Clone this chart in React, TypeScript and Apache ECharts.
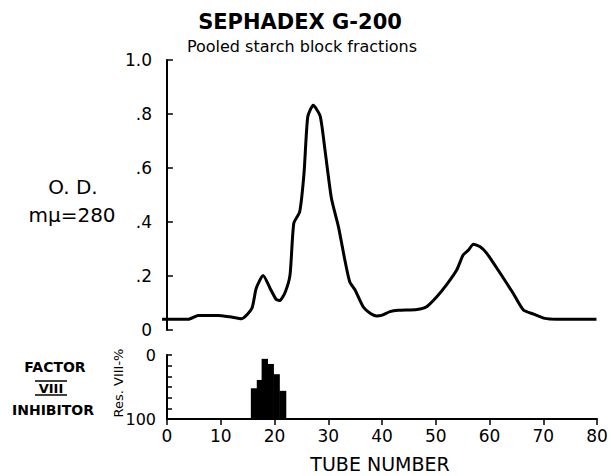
import React, { useEffect, useRef } from "react";
import * as echarts from "echarts";

// Optical density (O.D. at 280 mμ) vs tube number
const tubes = [
  -0.9, 4.0, 5.8, 9.5, 11.7, 13.9, 15.8, 16.6, 17.9, 19.2, 20.3, 21.0, 22.0, 22.9,
  23.6, 24.7, 25.5, 26.2, 27.2, 28.5, 29.4, 30.6, 31.9, 33.1, 34.0, 35.0, 36.5,
  37.8, 39.0, 39.9, 41.5, 43.0, 46.5, 48.3, 50.2, 52.0, 53.9, 55.1, 56.1, 57.0,
  58.2, 59.5, 62.0, 64.4, 66.3, 68.2, 70.3, 72.5, 79.9,
];
const od = [
  0.04, 0.04, 0.054, 0.054, 0.049, 0.042, 0.08, 0.154, 0.202, 0.154, 0.114, 0.109,
  0.14, 0.204, 0.395, 0.438, 0.58, 0.79, 0.832, 0.793, 0.667, 0.488, 0.383, 0.259,
  0.179, 0.148, 0.086, 0.062, 0.052, 0.054, 0.068, 0.073, 0.076, 0.086, 0.123,
  0.167, 0.222, 0.278, 0.296, 0.318, 0.309, 0.284, 0.21, 0.136, 0.074, 0.059,
  0.043, 0.04, 0.04,
];

// Factor VIII inhibitor: residual VIII % per tube (bins)
const binEdges = [15.6, 16.7, 17.6, 18.7, 19.8, 20.9, 22.1];
const residual = [52, 39, 6, 14, 30, 56];

const odTicks = [0, 0.2, 0.4, 0.6, 0.8, 1.0];
const odTickLabels = ["0", ".2", ".4", ".6", ".8", "1.0"];
const tubeTicks = [0, 10, 20, 30, 40, 50, 60, 70, 80];

const FONT = "DejaVu Sans";

export default function App() {
  const ref = useRef<HTMLDivElement>(null);
  useEffect(() => {
    if (!ref.current) return;
    const chart = echarts.init(ref.current, undefined, { renderer: "svg" });
    const lineData = tubes.map((t, i) => [t, od[i]]);
    const barData = residual.map((v, i) => [binEdges[i], binEdges[i + 1], v]);
    const txt = (
      text: string,
      x: number,
      y: number,
      size: number,
      weight: string = "normal",
      extra: any = {}
    ) => ({
      type: "text",
      x,
      y,
      ...extra,
      style: {
        text,
        x: 0,
        y: 0,
        fill: "#000",
        font: `${weight} ${size}px "${FONT}"`,
        textAlign: "center",
        textVerticalAlign: "middle",
        align: "center",
        verticalAlign: "middle",
      },
    });
    chart.setOption({
      animation: false,
      backgroundColor: "#fff",
      grid: [
        { left: 161, right: 14, top: 60, height: 270 },
        { left: 167, right: 14, top: 355, height: 64 },
      ],
      xAxis: [
        { gridIndex: 0, type: "value", min: -1.1, max: 80, show: false },
        {
          gridIndex: 1,
          type: "value",
          min: 0,
          max: 80,
          interval: 10,
          position: "bottom",
          axisLine: { onZero: false, lineStyle: { color: "#000", width: 2 } },
          axisTick: { inside: false, length: 6, lineStyle: { color: "#000", width: 1.5 } },
          axisLabel: {
            color: "#000",
            fontSize: 17,
            fontFamily: FONT,
            margin: 8,
            formatter: (v: number) => (tubeTicks.includes(v) ? String(v) : ""),
          },
          splitLine: { show: false },
        },
      ],
      yAxis: [
        {
          gridIndex: 0,
          type: "value",
          min: 0,
          max: 1,
          interval: 0.2,
          axisLine: { show: true, lineStyle: { color: "#000", width: 2 } },
          axisTick: { show: true, inside: true, length: 6, lineStyle: { color: "#000", width: 1.5 } },
          axisLabel: {
            color: "#000",
            fontSize: 17,
            fontFamily: FONT,
            margin: 9,
            formatter: (v: number) => {
              const i = odTicks.findIndex((t) => Math.abs(t - v) < 1e-6);
              return i >= 0 ? odTickLabels[i] : "";
            },
          },
          splitLine: { show: false },
        },
        {
          gridIndex: 1,
          type: "value",
          min: 0,
          max: 100,
          interval: 100 / 6,
          inverse: true,
          offset: 5,
          axisLine: { show: true, lineStyle: { color: "#000", width: 2 } },
          axisTick: { show: true, inside: true, length: 5, lineStyle: { color: "#000", width: 1.5 } },
          axisLabel: {
            color: "#000",
            fontSize: 16,
            fontFamily: FONT,
            margin: 6,
            formatter: (v: number) =>
              Math.abs(v) < 1e-6 ? "0" : Math.abs(v - 100) < 1e-3 ? "100" : "",
          },
          splitLine: { show: false },
        },
      ],
      series: [
        {
          type: "line",
          xAxisIndex: 0,
          yAxisIndex: 0,
          data: lineData,
          showSymbol: false,
          symbol: "none",
          smooth: 0.2,
          lineStyle: { color: "#000", width: 3 },
          clip: false,
        },
        {
          type: "custom",
          xAxisIndex: 1,
          yAxisIndex: 1,
          data: barData,
          renderItem: (params: any, api: any) => {
            const p0 = api.coord([api.value(0), 100]);
            const p1 = api.coord([api.value(1), api.value(2)]);
            return {
              type: "rect",
              shape: { x: p0[0], y: p1[1], width: p1[0] - p0[0] + 0.5, height: p0[1] - p1[1] },
              style: { fill: "#000", stroke: null },
            };
          },
        },
      ],
      graphic: [
        txt("SEPHADEX G-200", 300, 22, 21, "bold"),
        txt("Pooled starch block fractions", 302, 46, 16),
        txt("O. D.", 73, 187, 20),
        txt("mμ=280", 72, 215, 20),
        txt("FACTOR", 55, 367, 14, "bold"),
        txt("VIII", 51, 388, 13, "bold"),
        {
          type: "line",
          shape: { x1: 35, y1: 381, x2: 67, y2: 381 },
          style: { stroke: "#000", lineWidth: 1.5 },
        },
        {
          type: "line",
          shape: { x1: 35, y1: 395, x2: 67, y2: 395 },
          style: { stroke: "#000", lineWidth: 1.5 },
        },
        txt("INHIBITOR", 53, 410, 14, "bold"),
        txt("Res. VIII-%", 118, 383, 13, "normal", { rotation: Math.PI / 2 }),
        txt("TUBE NUMBER", 380, 464, 19),
      ],
    });
    return () => chart.dispose();
  }, []);
  return (
    <div
      ref={ref}
      style={{ width: 611, height: 476, position: "fixed", left: 0, top: 0 }}
    />
  );
}
